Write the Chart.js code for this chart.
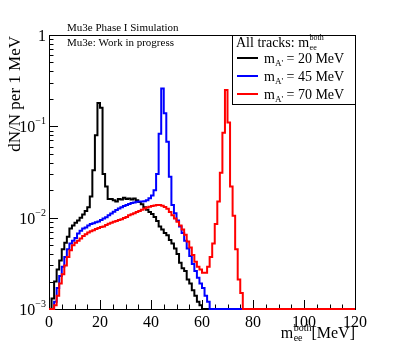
<!DOCTYPE html>
<html><head><meta charset="utf-8">
<script src="https://cdn.jsdelivr.net/npm/chart.js@4/dist/chart.umd.min.js"></script>
<style>html,body{margin:0;padding:0;background:#fff}canvas{display:block}</style>
</head><body>
<canvas id="c" width="395" height="345"></canvas>
<script>
// ---- data (1 MeV bins, bin i covers [i, i+1) MeV); missing bins are empty ----
const X_MIN = 0, X_MAX = 120, BIN_W = 1;
const Y_MIN = 1e-3, Y_MAX = 1;
const xTickValues = [0, 20, 40, 60, 80, 100, 120];
const yTickValues = [1, 1e-1, 1e-2, 1e-3];
const yTickLabels = [["1", ""], ["10", "\u22121"], ["10", "\u22122"], ["10", "\u22123"]];
const seriesNames = ["20", "45", "70"];
const seriesColors = ["#000000", "#0000ff", "#ff0000"];

const mA20 = [
  0, 0.0013, 0.0020, 0.0027, 0.0034, 0.0045, 0.0053, 0.0062, 0.0076, 0.0082,
  0.0088, 0.0093, 0.0100, 0.0108, 0.0118, 0.0130, 0.0170, 0.033, 0.080, 0.180,
  0.160, 0.030, 0.022, 0.016, 0.0160, 0.0155, 0.0150, 0.0160, 0.0158, 0.0165,
  0.0160, 0.0162, 0.0158, 0.0162, 0.0155, 0.0148, 0.0140, 0.0130, 0.0122, 0.0115,
  0.0110, 0.0102, 0.0092, 0.0080, 0.0074, 0.0068, 0.0064, 0.0057, 0.0052, 0.0046,
  0.0040, 0.0032, 0.0028, 0.0026, 0.0021, 0.0019, 0.0016, 0.0014, 0.0012, 0.0011
];
const mA45 = [
  0, 0, 0.0012, 0.0017, 0.0023, 0.0029, 0.0037, 0.0045, 0.0052, 0.0056,
  0.0060, 0.0067, 0.0072, 0.0076, 0.0078, 0.0082, 0.0085, 0.0087, 0.0089, 0.0091,
  0.0094, 0.0098, 0.0101, 0.0106, 0.0111, 0.0116, 0.0121, 0.0126, 0.0130, 0.0134,
  0.0138, 0.0141, 0.0145, 0.0147, 0.0149, 0.0150, 0.0150, 0.0151, 0.0155, 0.0163,
  0.0175, 0.020, 0.030, 0.083, 0.26, 0.139, 0.068, 0.028, 0.0138, 0.0112,
  0.0093, 0.0080, 0.0068, 0.0056, 0.0046, 0.0038, 0.0031, 0.0026, 0.0022, 0.0019,
  0.0017, 0.0014, 0.0012
];
const mA70 = [
  0, 0, 0.0011, 0.0014, 0.0019, 0.0024, 0.0030, 0.0037, 0.0044, 0.0050,
  0.0053, 0.0056, 0.0059, 0.0063, 0.0066, 0.0069, 0.0071, 0.0073, 0.0075, 0.0077,
  0.0079, 0.0080, 0.0083, 0.0086, 0.0088, 0.0090, 0.0092, 0.0094, 0.0096, 0.0099,
  0.0102, 0.0106, 0.0109, 0.0112, 0.0115, 0.0118, 0.0122, 0.0126, 0.0129, 0.0132,
  0.0134, 0.0136, 0.0138, 0.0138, 0.0135, 0.0131, 0.0125, 0.0115, 0.0106, 0.0098,
  0.0090, 0.0082, 0.0074, 0.0065, 0.0055, 0.0047, 0.0039, 0.0033, 0.0029, 0.0027,
  0.0025, 0.0025, 0.0029, 0.0037, 0.0052, 0.0085, 0.015, 0.031, 0.085, 0.25,
  0.11, 0.022, 0.0105, 0.0045, 0.0021, 0.0015
];
const seriesValues = [mA20, mA45, mA70];

// histogram outline: one point per bin low edge, plus the final high edge
function histPoints(vals) {
  const n = Math.round((X_MAX - X_MIN) / BIN_W);
  const pts = [];
  for (let i = 0; i < n; i++) {
    const v = vals[i] || 0;
    pts.push({ x: X_MIN + i * BIN_W, y: Math.max(v, Y_MIN) });
  }
  pts.push({ x: X_MAX, y: Math.max(vals[n - 1] || 0, Y_MIN) });
  return pts;
}

const SERIF = '"Liberation Serif", "DejaVu Serif", serif';
function font(px) { return px + 'px ' + SERIF; }

function richWidth(ctx, parts) {
  let w = 0;
  for (const p of parts) { ctx.font = font(p.size); w += ctx.measureText(p.t).width; }
  return w;
}
function drawRich(ctx, parts, x, y, align) {
  const w = richWidth(ctx, parts);
  let cx = align === 'right' ? x - w : (align === 'center' ? x - w / 2 : x);
  ctx.textBaseline = 'alphabetic';
  ctx.textAlign = 'left';
  for (const p of parts) {
    ctx.font = font(p.size);
    ctx.fillText(p.t, cx, y + (p.dy || 0));
    cx += ctx.measureText(p.t).width;
  }
}
// m with stacked sub/superscript
function drawMee(ctx, x, y, size, sub, sup, subDy, supDy) {
  ctx.textAlign = 'left'; ctx.textBaseline = 'alphabetic';
  ctx.font = font(size);
  ctx.fillText('m', x, y);
  const mw = ctx.measureText('m').width;
  const s = Math.round(size * 0.6);
  ctx.font = font(s);
  ctx.fillText(sub, x + mw + 0.5, y + subDy);
  ctx.fillText(sup, x + mw + 0.5, y + supDy);
  return x + mw + 0.5 + Math.max(ctx.measureText(sub).width, ctx.measureText(sup).width);
}

const rootStyle = {
  id: 'rootStyle',
  beforeDatasetsDraw(chart) {
    const { ctx, chartArea: a, scales } = chart;
    const xs = scales.x, ys = scales.y;
    ctx.save();
    ctx.strokeStyle = '#000';
    ctx.lineWidth = 1;
    ctx.strokeRect(Math.round(a.left) + 0.5, Math.round(a.top) + 0.5,
      Math.round(a.right - a.left), Math.round(a.bottom - a.top));
    ctx.beginPath();
    for (let v = X_MIN; v <= X_MAX; v += 5) {
      const px = Math.round(xs.getPixelForValue(v)) + 0.5;
      const len = (xTickValues.includes(v)) ? 9 : 4.5;
      ctx.moveTo(px, a.bottom); ctx.lineTo(px, a.bottom - len);
    }
    for (let d = -3; d < 0; d++) {
      for (let k = 1; k <= 9; k++) {
        const v = k * Math.pow(10, d);
        const py = Math.round(ys.getPixelForValue(v)) + 0.5;
        const len = k === 1 ? 9 : 4.5;
        ctx.moveTo(a.left, py); ctx.lineTo(a.left + len, py);
      }
    }
    ctx.stroke();
    ctx.restore();
  },
  afterDatasetsDraw(chart) {
    const { ctx, chartArea: a, scales } = chart;
    const xs = scales.x, ys = scales.y;
    ctx.save();
    ctx.fillStyle = '#000';
    // x tick labels
    ctx.font = font(16);
    ctx.textAlign = 'center'; ctx.textBaseline = 'alphabetic';
    for (const v of xTickValues) ctx.fillText(String(v), xs.getPixelForValue(v), a.bottom + 18);
    // y tick labels
    yTickValues.forEach((v, i) => {
      const py = ys.getPixelForValue(v);
      const [base, exp] = yTickLabels[i];
      const parts = [{ t: base, size: 16 }];
      if (exp) parts.push({ t: exp, size: 10, dy: -8 });
      drawRich(ctx, parts, a.left - 3, py + 6, 'right');
    });
    // y axis title
    ctx.save();
    ctx.translate(20, a.top + 1);
    ctx.rotate(-Math.PI / 2);
    ctx.font = font(17);
    ctx.textAlign = 'right'; ctx.textBaseline = 'alphabetic';
    ctx.fillText('dN/N per 1 MeV', 0, 0);
    ctx.restore();
    // x axis title
    const tail = '[MeV]';
    ctx.font = font(16);
    const tailW = ctx.measureText(tail).width;
    const mW = ctx.measureText('m').width;
    ctx.font = font(10);
    const subW = ctx.measureText('both').width;
    const base = a.bottom + 29;
    const startX = a.right - tailW - subW - mW - 0.5;
    const endX = drawMee(ctx, startX, base, 16, 'ee', 'both', 3, -7);
    ctx.font = font(16); ctx.textAlign = 'left';
    ctx.fillText(tail, endX, base);

    // header texts
    ctx.font = font(11);
    ctx.textAlign = 'left'; ctx.textBaseline = 'alphabetic';
    ctx.fillText('Mu3e Phase I Simulation', 67, 31);
    ctx.fillText('Mu3e: Work in progress', 67, 46);

    // legend
    const L = 232.5, T = Math.round(a.top) + 0.5, R = Math.round(a.right) + 0.5, B = 104.5;
    ctx.fillStyle = '#fff';
    ctx.fillRect(L, T, R - L, B - T);
    ctx.strokeStyle = '#000'; ctx.lineWidth = 1;
    ctx.strokeRect(L, T, R - L, B - T);
    ctx.fillStyle = '#000';
    ctx.font = font(14); ctx.textAlign = 'left';
    const head = 'All tracks: ';
    ctx.fillText(head, 236, 47);
    const hw = ctx.measureText(head).width;
    drawMee(ctx, 236 + hw, 47, 14, 'ee', 'both', 3, -7);
    const rows = [58, 76, 94];
    seriesNames.forEach((name, i) => {
      const y = rows[i];
      ctx.strokeStyle = seriesColors[i]; ctx.lineWidth = 2;
      ctx.beginPath(); ctx.moveTo(237, y); ctx.lineTo(258, y); ctx.stroke();
      ctx.fillStyle = '#000';
      ctx.font = font(14);
      ctx.fillText('m', 264, y + 5);
      const mw = ctx.measureText('m').width;
      ctx.font = font(9);
      ctx.fillText("A'", 264 + mw, y + 8);
      const aw = ctx.measureText("A'").width;
      ctx.font = font(14);
      ctx.fillText(' = ' + name + ' MeV', 264 + mw + aw, y + 5);
    });
    ctx.restore();
  }
};

const datasets = seriesValues.map((vals, i) => ({
  label: 'm_A\' = ' + seriesNames[i] + ' MeV',
  data: histPoints(vals),
  borderColor: seriesColors[i],
  borderWidth: 2,
  pointRadius: 0,
  stepped: true,
  fill: false,
  tension: 0,
  clip: 3,
  order: seriesValues.length - 1 - i
}));

new Chart(document.getElementById('c'), {
  type: 'line',
  data: { datasets },
  options: {
    responsive: false,
    animation: false,
    layout: { padding: { left: 49, top: 35, right: 40, bottom: 36 } },
    scales: {
      x: { type: 'linear', min: X_MIN, max: X_MAX, display: false },
      y: { type: 'logarithmic', min: Y_MIN, max: Y_MAX, display: false }
    },
    plugins: { legend: { display: false }, tooltip: { enabled: false } }
  },
  plugins: [rootStyle]
});
</script>
</body></html>
